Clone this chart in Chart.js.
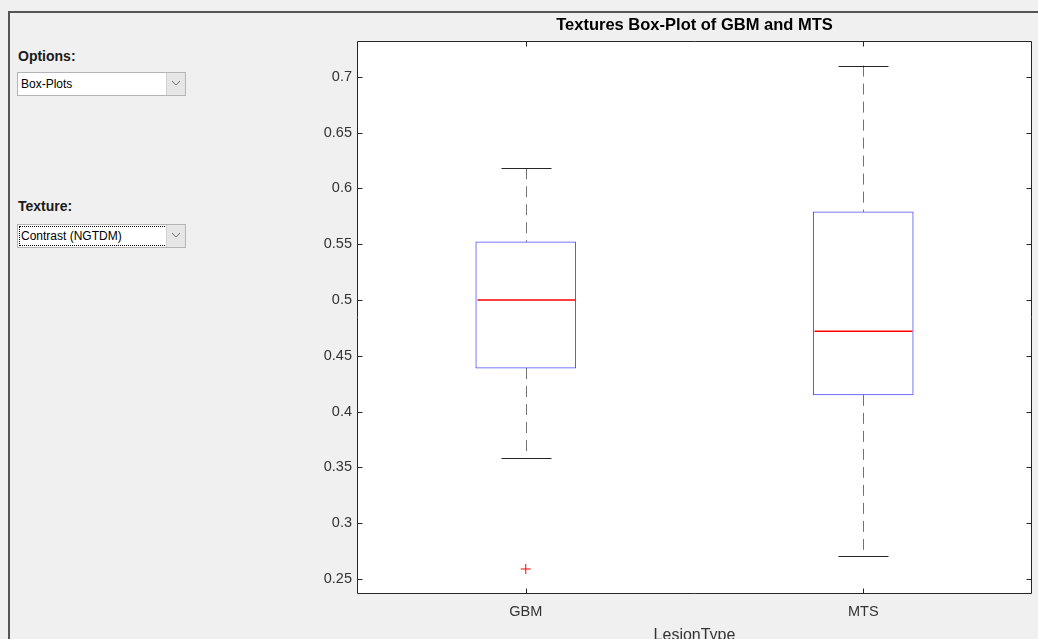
<!DOCTYPE html>
<html>
<head>
<meta charset="utf-8">
<script src="https://cdn.jsdelivr.net/npm/chart.js@4"></script>
<style>
  html, body { margin: 0; padding: 0; }
  body {
    width: 1038px; height: 639px; overflow: hidden; position: relative;
    background: #f0f0f0; font-family: "Liberation Sans", Arial, sans-serif;
  }
  .frame-top  { position: absolute; left: 8px; top: 11px; right: 0; height: 2px; background: #555; }
  .frame-left { position: absolute; left: 8px; top: 11px; bottom: 0; width: 2px; background: #555; }
  .lbl { position: absolute; left: 18px; font-weight: bold; font-size: 14px; color: #1a1a1a; }
  .dd {
    position: absolute; left: 17px; width: 167px; height: 22px;
    background: #fff; border: 1px solid #b4b4b4; font-size: 12px; color: #000;
  }
  .dd .txt { position: absolute; left: 3px; top: 4px; }
  .dd .arrow {
    position: absolute; right: 0; top: 0; width: 18px; height: 22px;
    background: #e6e6e6; border-left: 1px solid #d0d0d0;
  }
  .dd .arrow svg { position: absolute; left: 4px; top: 7px; }
  .dd .focus { position: absolute; left: 1px; top: 1px; width: 146px; height: 18px; border: 1px dotted #000; }
  canvas { position: absolute; left: 0; top: 0; }
</style>
</head>
<body>
<div class="frame-top"></div>
<div class="frame-left"></div>

<div class="lbl" style="top:48px">Options:</div>
<div class="dd" style="top:72px">
  <span class="txt">Box-Plots</span>
  <div class="arrow"><svg width="10" height="7"><polyline points="1,1 5,5 9,1" fill="none" stroke="#707070" stroke-width="1"/></svg></div>
</div>

<div class="lbl" style="top:198px">Texture:</div>
<div class="dd" style="top:224px">
  <div class="focus"></div>
  <span class="txt">Contrast (NGTDM)</span>
  <div class="arrow"><svg width="10" height="7"><polyline points="1,1 5,5 9,1" fill="none" stroke="#707070" stroke-width="1"/></svg></div>
</div>

<canvas id="chart" width="1038" height="660"></canvas>

<script>
/* ── Data ───────────────────────────────────────────── */
const categories  = ['GBM', 'MTS'];
const whiskerLow  = [0.358, 0.271];
const quart1      = [0.439, 0.415];
const medians     = [0.500, 0.472];
const quart3      = [0.552, 0.579];
const whiskerHigh = [0.618, 0.710];
const outliers    = [0.259, null];
const yTicks      = [0.25, 0.3, 0.35, 0.4, 0.45, 0.5, 0.55, 0.6, 0.65, 0.7];
const yMin = 0.2366, yMax = 0.7322;

const AXIS = '#333';
const FONT = '"Liberation Sans", Arial, sans-serif';

/* ── Plugins ────────────────────────────────────────── */
const plotBg = {
  id: 'plotBg',
  beforeDraw(c) {
    const { ctx, chartArea: a } = c;
    ctx.save();
    ctx.fillStyle = '#fff';
    ctx.fillRect(a.left, a.top, a.right - a.left, a.bottom - a.top);
    ctx.restore();
  },
};

const boxParts = {
  id: 'boxParts',
  afterDatasetsDraw(c) {
    const { ctx } = c;
    const y = c.scales.y;
    const bars = c.getDatasetMeta(0).data;
    bars.forEach((bar, i) => {
      const x = Math.round(bar.x) + 0.5;
      const w = bar.width;
      ctx.save();
      ctx.lineWidth = 1;
      // whiskers
      ctx.strokeStyle = 'rgba(0,0,0,0.55)';
      ctx.setLineDash([11, 7]);
      ctx.beginPath();
      ctx.moveTo(x, y.getPixelForValue(whiskerHigh[i]));
      ctx.lineTo(x, y.getPixelForValue(quart3[i]));
      ctx.moveTo(x, y.getPixelForValue(quart1[i]));
      ctx.lineTo(x, y.getPixelForValue(whiskerLow[i]));
      ctx.stroke();
      ctx.setLineDash([]);
      // caps
      ctx.strokeStyle = 'rgba(0,0,0,0.85)';
      ctx.beginPath();
      [whiskerHigh[i], whiskerLow[i]].forEach(v => {
        const py = Math.round(y.getPixelForValue(v)) + 0.5;
        ctx.moveTo(x - w / 4, py);
        ctx.lineTo(x + w / 4, py);
      });
      ctx.stroke();
      ctx.restore();
      // median
      ctx.save();
      ctx.strokeStyle = '#ff0000';
      ctx.lineWidth = 1.3;
      ctx.beginPath();
      const my = y.getPixelForValue(medians[i]);
      ctx.moveTo(x - w / 2 + 1, my);
      ctx.lineTo(x + w / 2 - 1, my);
      ctx.stroke();
      ctx.restore();
    });
  },
};

const axesBox = {
  id: 'axesBox',
  afterDraw(c) {
    const { ctx, chartArea: a } = c;
    const L = Math.round(a.left) + 0.5, R = Math.round(a.right) - 0.5;
    const T = Math.round(a.top) + 0.5, B = Math.round(a.bottom) - 0.5;
    const tl = 5;
    ctx.save();
    ctx.strokeStyle = '#262626';
    ctx.lineWidth = 1;
    ctx.beginPath();
    ctx.rect(L, T, R - L, B - T);
    yTicks.forEach(v => {
      const py = Math.round(c.scales.y.getPixelForValue(v)) + 0.5;
      ctx.moveTo(L, py); ctx.lineTo(L + tl, py);
      ctx.moveTo(R, py); ctx.lineTo(R - tl, py);
    });
    categories.forEach((_, i) => {
      const px = Math.round(c.scales.x.getPixelForValue(i)) + 0.5;
      ctx.moveTo(px, B); ctx.lineTo(px, B - tl);
      ctx.moveTo(px, T); ctx.lineTo(px, T + tl);
    });
    ctx.stroke();
    ctx.restore();
  },
};

/* ── Chart ──────────────────────────────────────────── */
new Chart(document.getElementById('chart'), {
  type: 'bar',
  data: {
    labels: categories,
    datasets: [
      {
        data: quart1.map((q, i) => [q, quart3[i]]),
        backgroundColor: '#fff',
        borderColor: 'rgba(0,0,255,0.7)',
        borderWidth: 1,
        borderSkipped: false,
        barThickness: 100,
        order: 2,
      },
      {
        type: 'line',
        data: outliers,
        showLine: false,
        pointStyle: 'cross',
        pointRadius: 5,
        borderColor: '#ff0000',
        borderWidth: 1,
        order: 1,
      },
    ],
  },
  options: {
    responsive: false,
    animation: false,
    devicePixelRatio: 1,
    layout: { padding: { left: 297, right: 5, top: 0, bottom: 0 } },
    plugins: {
      legend: { display: false },
      tooltip: { enabled: false },
      title: {
        display: true,
        fullSize: false,
        text: 'Textures Box-Plot of GBM and MTS',
        color: '#000',
        font: { family: FONT, size: 16.5, weight: 'bold' },
        padding: { top: 16, bottom: 5 },
      },
    },
    scales: {
      x: {
        offset: true,
        grid: { display: false, drawTicks: false },
        border: { display: false },
        ticks: { color: AXIS, font: { family: FONT, size: 14.5 }, padding: 9 },
        title: {
          display: true,
          text: 'LesionType',
          color: AXIS,
          font: { family: FONT, size: 16 },
          padding: { top: 0, bottom: 15 },
        },
        afterFit: s => { s.height = 66; },
      },
      y: {
        min: yMin,
        max: yMax,
        grid: { display: false, drawTicks: false },
        border: { display: false },
        ticks: {
          color: AXIS,
          font: { family: FONT, size: 14.5 },
          padding: 5,
          callback: v => String(parseFloat(v.toFixed(2))),
        },
        afterBuildTicks: s => { s.ticks = yTicks.map(v => ({ value: v })); },
        afterFit: s => { s.width = 60; },
      },
    },
  },
  plugins: [plotBg, boxParts, axesBox],
});
</script>
</body>
</html>
